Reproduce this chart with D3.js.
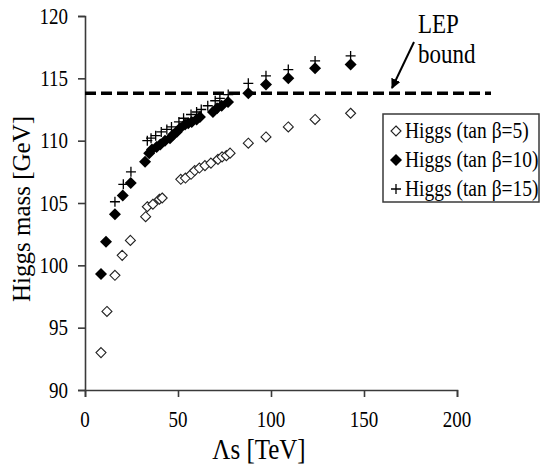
<!DOCTYPE html>
<html>
<head>
<meta charset="utf-8">
<script src="https://cdn.jsdelivr.net/npm/d3@7"></script>
<style>
  html, body { margin: 0; padding: 0; background: #fff; }
</style>
</head>
<body>
<svg id="chart" width="544" height="466"></svg>
<script>
// Λs scan [TeV] and lightest Higgs mass [GeV] for three values of tan β
const lambdaTanB5 = [8.6, 11.8, 16.1, 20.0, 24.4, 32.6, 33.5, 36.5, 40.0, 41.5, 51.5, 54.0, 57.0, 59.0, 61.5, 64.5, 67.7, 71.5, 73.7, 76.0, 78.0, 87.8, 97.3, 109.3, 123.7, 142.8];
const massTanB5   = [93.0, 96.3, 99.2, 100.8, 102.0, 103.9, 104.7, 104.9, 105.3, 105.4, 106.9, 107.0, 107.3, 107.6, 107.8, 108.0, 108.2, 108.5, 108.7, 108.8, 109.0, 109.8, 110.3, 111.1, 111.7, 112.2];

const lambdaTanB10 = [8.6, 11.3, 16.1, 20.3, 24.6, 32.3, 34.5, 36.0, 38.5, 40.5, 43.0, 45.7, 47.5, 49.3, 51.1, 53.8, 55.5, 57.4, 60.0, 61.8, 68.8, 71.0, 73.5, 76.9, 87.8, 97.3, 109.3, 123.7, 142.8];
const massTanB10   = [99.3, 101.9, 104.1, 105.6, 106.6, 108.3, 109.0, 109.3, 109.5, 109.7, 110.0, 110.2, 110.5, 110.7, 111.0, 111.3, 111.4, 111.5, 111.7, 111.9, 112.3, 112.6, 112.8, 113.1, 113.8, 114.5, 115.0, 115.8, 116.1];

const lambdaTanB15 = [16.1, 20.6, 24.7, 33.5, 35.5, 38.0, 41.0, 44.0, 46.5, 50.5, 53.0, 57.0, 60.0, 62.5, 66.0, 70.0, 72.5, 77.0, 87.8, 97.3, 109.3, 123.7, 142.8];
const massTanB15   = [105.1, 106.5, 107.5, 110.0, 110.2, 110.4, 110.7, 110.9, 111.1, 111.5, 111.8, 112.1, 112.3, 112.5, 112.8, 113.2, 113.4, 113.7, 114.6, 115.2, 115.7, 116.4, 116.8];

const seriesNames = ["Higgs (tan \u03b2=5)", "Higgs (tan \u03b2=10)", "Higgs (tan \u03b2=15)"];
const xTicks = [0, 50, 100, 150, 200];
const yTicks = [90, 95, 100, 105, 110, 115, 120];
const lepBound = 113.8;

const svg = d3.select("#chart");
const axisColor = "#3a3a3a";
const serif = "'Liberation Serif', 'Times New Roman', Times, 'DejaVu Serif', serif";
const stretch = 1.17; // glyphs are drawn slightly taller than wide

const x = d3.scaleLinear().domain([0, 200]).range([85, 457]);
const y = d3.scaleLinear().domain([90, 120]).range([390, 16]);

// stretched text helper
function label(g, tx, ty, str, size, anchor, rot, sy) {
  return g.append("text")
    .attr("transform", `translate(${tx},${ty}) rotate(${rot || 0}) scale(1,${sy || stretch})`)
    .attr("font-family", serif)
    .attr("font-size", size)
    .attr("fill", "#000")
    .attr("text-anchor", anchor || "start")
    .text(str);
}

// axes
const xAxis = svg.append("g").attr("transform", `translate(0,${y(90)})`)
  .call(d3.axisBottom(x).tickValues(xTicks).tickSize(7).tickFormat(""));
const yAxis = svg.append("g").attr("transform", `translate(${x(0)},0)`)
  .call(d3.axisLeft(y).tickValues(yTicks).tickSize(7).tickFormat(""));
[xAxis, yAxis].forEach(a => {
  a.selectAll("path").attr("stroke", axisColor).attr("stroke-width", 1.6);
  a.selectAll("line").attr("stroke", axisColor).attr("stroke-width", 1.6);
});

const labels = svg.append("g");
xTicks.forEach(v => label(labels, x(v), y(90) + 37, String(v), 19, "middle"));
yTicks.forEach(v => label(labels, 68, y(v) + 7.5, String(v), 19, "end"));

label(labels, x(100) - 12, 459, "\u039bs [TeV]", 25, "middle");
label(labels, 30, 209, "Higgs mass [GeV]", 25, "middle", -90, 1);

// LEP bound
svg.append("line")
  .attr("x1", x(0)).attr("x2", 491)
  .attr("y1", y(lepBound)).attr("y2", y(lepBound))
  .attr("stroke", "#000").attr("stroke-width", 3.5)
  .attr("stroke-dasharray", "11,5");

label(labels, 418, 33, "LEP", 23, "start");
label(labels, 418, 63, "bound", 23, "start");

svg.append("defs").append("marker")
  .attr("id", "arrowhead").attr("viewBox", "0 0 10 10")
  .attr("refX", 9).attr("refY", 5)
  .attr("markerWidth", 5).attr("markerHeight", 5)
  .attr("orient", "auto")
  .append("path").attr("d", "M0,0 L10,5 L0,10 z").attr("fill", "#000");
svg.append("line")
  .attr("x1", 414).attr("y1", 42).attr("x2", 392).attr("y2", 88)
  .attr("stroke", "#000").attr("stroke-width", 2)
  .attr("marker-end", "url(#arrowhead)");

// markers
const diamond = r => `M0,${-r} L${r},0 L0,${r} L${-r},0 Z`;
function drawMarker(g, kind, cx, cy) {
  if (kind === 0) {
    g.append("path").attr("d", diamond(5)).attr("transform", `translate(${cx},${cy})`)
      .attr("fill", "#fff").attr("stroke", "#222").attr("stroke-width", 1.1);
  } else if (kind === 1) {
    g.append("path").attr("d", diamond(6)).attr("transform", `translate(${cx},${cy})`)
      .attr("fill", "#000");
  } else {
    g.append("path").attr("d", "M-5,0 H5 M0,-5 V5").attr("transform", `translate(${cx},${cy})`)
      .attr("fill", "none").attr("stroke", "#000").attr("stroke-width", 1.3);
  }
}

const pts = svg.append("g");
lambdaTanB15.forEach((v, i) => drawMarker(pts, 2, x(v), y(massTanB15[i])));
lambdaTanB10.forEach((v, i) => drawMarker(pts, 1, x(v), y(massTanB10[i])));
lambdaTanB5.forEach((v, i) => drawMarker(pts, 0, x(v), y(massTanB5[i])));

// legend
const leg = svg.append("g");
leg.append("rect").attr("x", 383).attr("y", 114).attr("width", 156).attr("height", 88)
  .attr("fill", "#fff").attr("stroke", axisColor).attr("stroke-width", 1.5);
seriesNames.forEach((name, i) => {
  const cy = 131 + i * 29;
  drawMarker(leg, i, 396, cy);
  label(leg, 405, cy + 6.5, name, 19.5, "start");
});
</script>
</body>
</html>
